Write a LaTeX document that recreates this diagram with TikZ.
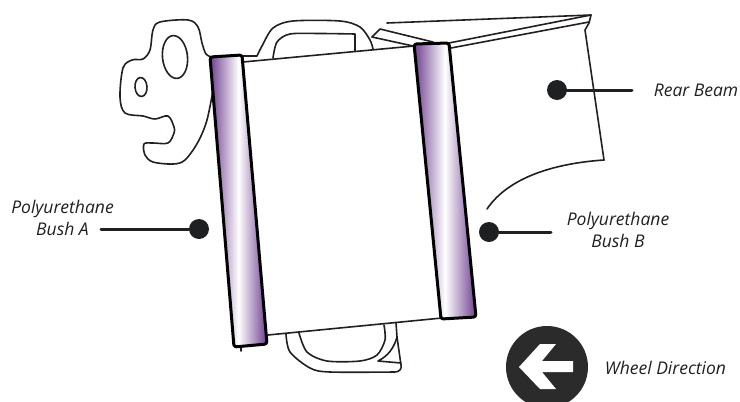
\documentclass[tikz,border=0pt]{standalone}
\usepackage{fontspec}
\setmainfont{Open Sans}
\definecolor{bushpurple}{HTML}{6F3F90}
\definecolor{dotdark}{HTML}{1E2021}
\definecolor{inkdark}{HTML}{231F20}
\definecolor{badge}{HTML}{2B2B2B}
\tikzset{
  ink/.style={draw=inkdark,line width=1.6pt,line join=round,line cap=round},
  bushbox/.style={draw=black,line width=3pt,rounded corners=2.5pt,line join=round},
  bushfill/.style={left color=bushpurple,right color=bushpurple,middle color=white},
  dotnode/.style={circle,fill=dotdark,inner sep=0pt,minimum size=20pt},
  leader/.style={draw=dotdark,line width=3pt,line cap=round},
  lab/.style={font=\itshape\fontsize{17.5}{19}\selectfont,text=inkdark,inner sep=0pt,anchor=base}
}
\begin{document}
\begin{tikzpicture}[x=1pt,y=-1pt]
\useasboundingbox (0,0) rectangle (740,402);
% left bracket
\draw[ink] plot[smooth,tension=0.55] coordinates {(212,57) (206,54) (202,43) (198,27) (188,20) (160,22) (153,30) (150,50) (143,59) (132,60) (123,68) (120,97) (125,113) (143,116) (155,119) (168,116) (174,127) (174,133) (168,143) (153,143) (144,144) (145,155) (153,162) (173,164) (185,160) (198,142) (207,120) (213,90)};
\draw[ink,rotate around={6:(175,57)}] (175,57) ellipse [x radius=12.5,y radius=21.5];
\draw[ink,rotate around={4:(141,87)}] (141,87) ellipse [x radius=6,y radius=9.5];
% upper loop
\draw[ink] (243,56) -- (257,56) plot[smooth,tension=0.5] coordinates {(257,56) (262,46) (273,28) (293,21) (340,21) (360,27) (370,40) (373,49)};
\draw[ink] plot[smooth,tension=0.5] coordinates {(273,58) (277,42) (290,34) (320,33.5) (355,34)} -- (355,51);
% beam
\draw[ink] (372,37) -- (380,29) -- (433,42);
\draw[ink] (372,37) -- (413,46);
\draw[ink] (387,23) -- (591,15) -- (589,23) -- (585,30) -- (604,160);
\draw[ink] (591,15) -- (449,43);
\draw[ink] (589,22) -- (451,48);
\draw[ink] (604,160) .. controls (560,163) and (510,175) .. (487,209);
% lower loop
\draw[ink] plot[smooth,tension=0.5] coordinates {(286,334) (290,352) (310,368) (330,372) (395,372)} .. controls (400,372) and (402,368) .. (401,365) -- (397,337) -- (396,323);
\draw[ink] plot[smooth,tension=0.5] coordinates {(299,333) (307,352) (327,361) (360,361) (377,355) (385,340) (384,325)};
\draw[ink] (397,337) .. controls (394,348) and (388,356) .. (378,361) -- (401,363);
\draw[ink] (241,345) -- (241,351);
% main plate
\draw[ink] (243,62) -- (414,46);
\draw[ink] (268,335) -- (442,318);
% bushes
\shade[bushfill,rounded corners=2.5pt] (210,57) -- (242,55) -- (267,344) -- (234,347) -- cycle;
\draw[bushbox] (210,57) -- (242,55) -- (267,344) -- (234,347) -- cycle;
\shade[bushfill,rounded corners=2.5pt] (414,44) -- (449,43) -- (476,317) -- (441,319) -- cycle;
\draw[bushbox] (414,44) -- (449,43) -- (476,317) -- (441,319) -- cycle;
% callouts
\node[dotnode] (dotA) at (199,229) {};
\coordinate (endA) at (101,229);
\draw[leader] (endA) -- (dotA);
\node[dotnode] (dotB) at (489,232) {};
\coordinate (endB) at (551,232);
\draw[leader] (dotB) -- (endB);
\node[dotnode] (dotR) at (557,90) {};
\coordinate (endR) at (632,90);
\draw[leader] (dotR) -- (endR);
\node[lab] (a1) at (62.5,213) {Polyurethane};
\node[lab] (a2) at (62.5,235) {Bush A};
\node[lab] (b1) at (618,225) {Polyurethane};
\node[lab] (b2) at (618,247) {Bush B};
\node[lab] (r1) at (696,96) {Rear Beam};
\node[lab] (w1) at (665.5,374) {Wheel Direction};
% wheel badge
\node[circle,fill=badge,inner sep=0pt,minimum size=82pt] (badge) at (547,367) {};
\fill[white] (519,367) -- (540,344) -- (556,344) -- (542,361) -- (573,361) -- (573,372) -- (542,372) -- (556,389) -- (540,389) -- cycle;
\end{tikzpicture}
\end{document}
